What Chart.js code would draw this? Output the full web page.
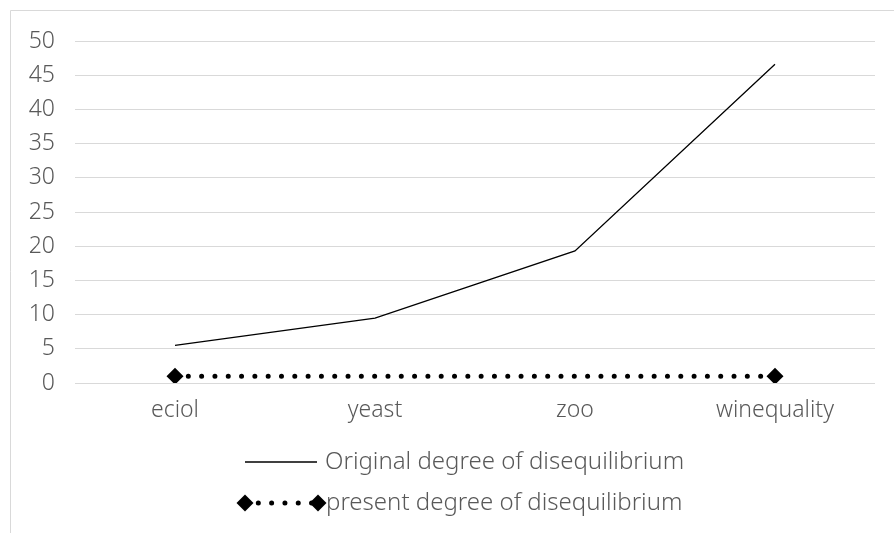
<!DOCTYPE html>
<html>
<head>
<meta charset="utf-8">
<script src="https://cdn.jsdelivr.net/npm/chart.js@4/dist/chart.umd.min.js"></script>
<style>
  html, body { margin: 0; padding: 0; background: #ffffff; }
  #wrap { width: 894px; height: 533px; position: relative; }
</style>
</head>
<body>
<div id="wrap"><canvas id="chart" width="894" height="533"></canvas></div>
<script>
// Datasets and labels
const categories = ['eciol', 'yeast', 'zoo', 'winequality'];
const originalDegree = [5.5, 9.5, 19.3, 46.6];
const presentDegree = [1.0, 1.0, 1.0, 1.0];
const seriesNames = ['Original degree of disequilibrium', 'present degree of disequilibrium'];

const TEXT_COLOR = '#595959';
const FONT_FAMILY = "'Noto Sans', 'DejaVu Sans', sans-serif";
const FONT_WEIGHT = 300;

// Outer frame and two-row legend under the plot
const frameAndLegend = {
  id: 'frameAndLegend',
  beforeDraw(chart) {
    const ctx = chart.ctx;
    ctx.save();
    ctx.fillStyle = '#ffffff';
    ctx.fillRect(0, 0, chart.width, chart.height);
    ctx.strokeStyle = '#d9d9d9';
    ctx.lineWidth = 1;
    ctx.beginPath();
    ctx.moveTo(10.5, chart.height);
    ctx.lineTo(10.5, 10.5);
    ctx.lineTo(chart.width, 10.5);
    ctx.stroke();
    ctx.restore();
  },
  afterDraw(chart) {
    const ctx = chart.ctx;
    ctx.save();
    ctx.font = FONT_WEIGHT + ' 24px ' + FONT_FAMILY;
    ctx.fillStyle = TEXT_COLOR;
    ctx.textBaseline = 'middle';

    // row 1: solid line sample
    const y1 = 462;
    ctx.strokeStyle = '#000000';
    ctx.lineWidth = 1.3;
    ctx.beginPath();
    ctx.moveTo(245, y1);
    ctx.lineTo(317, y1);
    ctx.stroke();
    ctx.fillText(seriesNames[0], 325, y1);

    // row 2: dotted sample with diamonds at both ends
    const y2 = 503;
    ctx.lineWidth = 5;
    ctx.lineCap = 'round';
    ctx.setLineDash([0.01, 13.3]);
    ctx.beginPath();
    ctx.moveTo(245, y2);
    ctx.lineTo(318, y2);
    ctx.stroke();
    ctx.setLineDash([]);
    ctx.fillStyle = '#000000';
    [245, 318].forEach(x => {
      ctx.beginPath();
      ctx.moveTo(x, y2 - 8.5);
      ctx.lineTo(x + 8.5, y2);
      ctx.lineTo(x, y2 + 8.5);
      ctx.lineTo(x - 8.5, y2);
      ctx.closePath();
      ctx.fill();
    });
    ctx.fillStyle = TEXT_COLOR;
    ctx.fillText(seriesNames[1], 326, y2);
    ctx.restore();
  }
};

const tickFont = { family: FONT_FAMILY, size: 23, weight: FONT_WEIGHT };

new Chart(document.getElementById('chart'), {
  type: 'line',
  data: {
    labels: categories,
    datasets: [
      {
        label: seriesNames[0],
        data: originalDegree,
        borderColor: '#000000',
        borderWidth: 1.3,
        pointRadius: 0,
        tension: 0,
        fill: false
      },
      {
        label: seriesNames[1],
        data: presentDegree,
        borderColor: '#000000',
        backgroundColor: '#000000',
        borderWidth: 5,
        borderCapStyle: 'round',
        borderDash: [0.01, 13.3],
        pointStyle: 'rectRot',
        pointRadius: [8.5, 0, 0, 8.5],
        pointBorderWidth: 0,
        pointBackgroundColor: '#000000',
        tension: 0,
        fill: false
      }
    ]
  },
  options: {
    responsive: false,
    animation: false,
    devicePixelRatio: 1,
    layout: { padding: { left: 10, top: 41, right: 19, bottom: 0 } },
    plugins: {
      legend: { display: false },
      tooltip: { enabled: false }
    },
    scales: {
      x: {
        offset: true,
        grid: { display: false, drawTicks: false },
        border: { display: false },
        ticks: { color: TEXT_COLOR, font: tickFont, padding: 14 },
        afterFit(scale) { scale.height = 150; }
      },
      y: {
        min: 0,
        max: 50,
        ticks: { stepSize: 5, color: TEXT_COLOR, font: tickFont, padding: 20 },
        grid: { color: '#d9d9d9', lineWidth: 1, drawTicks: false },
        border: { display: false },
        afterFit(scale) { scale.width = 65; }
      }
    }
  },
  plugins: [frameAndLegend]
});
</script>
</body>
</html>
